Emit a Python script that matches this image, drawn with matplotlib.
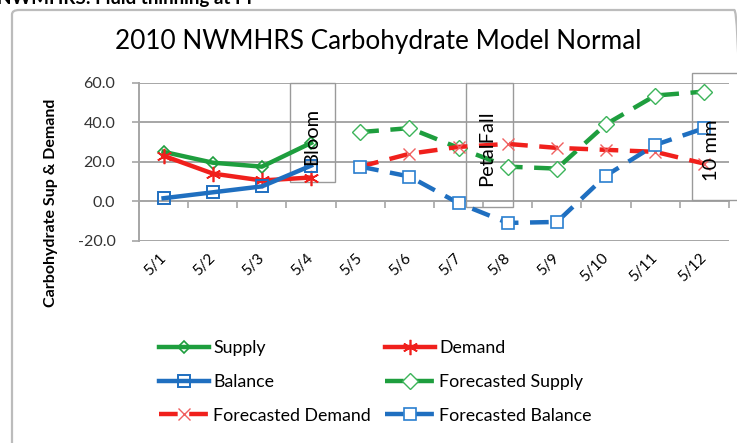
import numpy as np
import matplotlib
matplotlib.use('Agg')
import matplotlib.pyplot as plt
import matplotlib.transforms as mtransforms
from matplotlib.patches import Rectangle, FancyBboxPatch

plt.rcParams['font.family'] = ['Lato', 'DejaVu Sans']

# data
dates = ['5/1', '5/2', '5/3', '5/4', '5/5', '5/6', '5/7', '5/8', '5/9', '5/10', '5/11', '5/12']
supply = [25.0, 19.5, 17.5, 29.5]
demand = [23.0, 14.0, 10.5, 12.0]
balance = [1.5, 4.5, 7.5, 18.0]
fc_supply = [35.0, 37.0, 27.0, 17.5, 16.5, 39.0, 53.5, 55.5]
fc_demand = [17.5, 24.0, 27.5, 29.0, 27.0, 26.0, 25.0, 19.0]
fc_balance = [17.5, 12.5, -1.0, -11.0, -10.5, 13.0, 28.5, 37.0]
yticks = [-20, 0, 20, 40, 60]

green = '#1e9e3e'
red = '#f0201c'
blue = '#1f6fc0'

x = np.arange(len(dates))
x_obs = x[:len(supply)]
x_fc = x[len(supply):]

fig = plt.figure(figsize=(7.37, 4.43), dpi=100)
W, H = 737, 443

# outer chart frame
fig.patches.append(FancyBboxPatch((12 / W, -0.05), 0.99, (H - 10) / H + 0.05,
                                  boxstyle='round,pad=0,rounding_size=0.01',
                                  transform=fig.transFigure, fc='none',
                                  ec='#bcbcbc', lw=1.6, zorder=-1))

# clipped heading from the slide above
fig.text(-0.004, 1 - 4 / H, 'NWMHRS: Fluid thinning at PF', fontsize=13.5,
         fontweight='bold', va='baseline', ha='left')

ax = fig.add_axes([139 / W, 1 - 240.7 / H, 590 / W, 158 / H])
ax.set_xlim(-0.5, 11.5)
ax.set_ylim(-20, 60)
ax.patch.set_alpha(0)

for y in yticks:
    ax.axhline(y, color='#a6a6a6', lw=1.4, zorder=1)

dash = (0, (4.2, 2.6))
ax.plot(x_obs, supply, color=green, lw=3.2, marker='D', ms=6, mfc='none',
        mec=green, mew=1.2, label='Supply', zorder=4)
ax.plot(x_obs, demand, color=red, lw=3.2, marker=(6, 2, 0), ms=11,
        mec=red, mew=1.2, label='Demand', zorder=4)
ax.plot(x_obs, balance, color=blue, lw=3.2, marker='s', ms=9, mfc='none',
        mec=blue, mew=1.4, label='Balance', zorder=4)
ax.plot(x_fc, fc_supply, color=green, lw=3.2, ls=dash, marker='D',
        ms=8, mfc='white', mec='#3cb45a', mew=1.0, label='Forecasted Supply', zorder=4)
ax.plot(x_fc, fc_demand, color=red, lw=3.2, ls=dash, marker='x',
        ms=9, mec='#f06060', mew=1.0, label='Forecasted Demand', zorder=4)
ax.plot(x_fc, fc_balance, color=blue, lw=3.2, ls=dash, marker='s',
        ms=9, mfc='white', mec='#2a7fd0', mew=1.2, label='Forecasted Balance', zorder=4)

# stage text boxes
boxes = [((2.57, 9.6), 0.92, 50.4, 3.02, 33.0, 'Bloom'),
         ((6.15, -3.0), 0.96, 63.0, 6.58, 27.0, 'PetalFall'),
         ((10.75, 0.5), 1.2, 64.3, 11.15, 26.0, '10 mm')]
for (bx, by), bw, bh, tx, ty, txt in boxes:
    ax.add_patch(Rectangle((bx, by), bw, bh, fc='none', ec='#9a9a9a', lw=1.0,
                           clip_on=False, zorder=2))
    ax.text(tx, ty, txt, rotation=90, ha='center', va='center', fontsize=14.5,
            zorder=5)

ax.set_yticks(yticks)
ax.set_yticklabels(['%.1f' % v for v in yticks], fontsize=11.5, color='#333333')
ax.set_xticks(x)
ax.set_xticklabels(dates, fontsize=11, rotation=45, ha='right',
                   va='center', rotation_mode='anchor')
shift = mtransforms.ScaledTranslation(-11 / 100, 0, fig.dpi_scale_trans)
for lab in ax.get_xticklabels():
    lab.set_transform(lab.get_transform() + shift)
ax.tick_params(axis='x', length=0, pad=11)
ax.tick_params(axis='y', length=5, width=1.2, color='#a6a6a6', pad=12)
for s in ['top', 'right', 'bottom']:
    ax.spines[s].set_visible(False)
ax.spines['left'].set_color('#a6a6a6')
ax.spines['left'].set_linewidth(1.4)

# category axis crosses at 0
sec = ax.secondary_xaxis(0.25)
sec.set_xticks(np.arange(-0.5, 12, 1.0))
sec.set_xticklabels([])
sec.tick_params(length=5, width=1.2, color='#a6a6a6')
sec.spines['bottom'].set_color('#a6a6a6')
sec.spines['bottom'].set_linewidth(1.4)

ax.set_ylabel('Carbohydrate Sup & Demand', fontsize=11.5, fontweight='bold')
ax.yaxis.set_label_coords(-0.138, 0.24)

fig.text(378 / W, 1 - 42 / H, '2010 NWMHRS Carbohydrate Model Normal',
         fontsize=18.8, ha='center', va='center')

h, l = ax.get_legend_handles_labels()
order = [0, 2, 4, 1, 3, 5]
fig.legend([h[i] for i in order], [l[i] for i in order], ncol=2,
           loc='upper left', bbox_to_anchor=(143 / W, 1 - 324 / H),
           frameon=False, fontsize=12.8, handlelength=2.8, handletextpad=0.25,
           labelspacing=1.0, columnspacing=0.8)

fig.savefig('out.png', dpi=100)
